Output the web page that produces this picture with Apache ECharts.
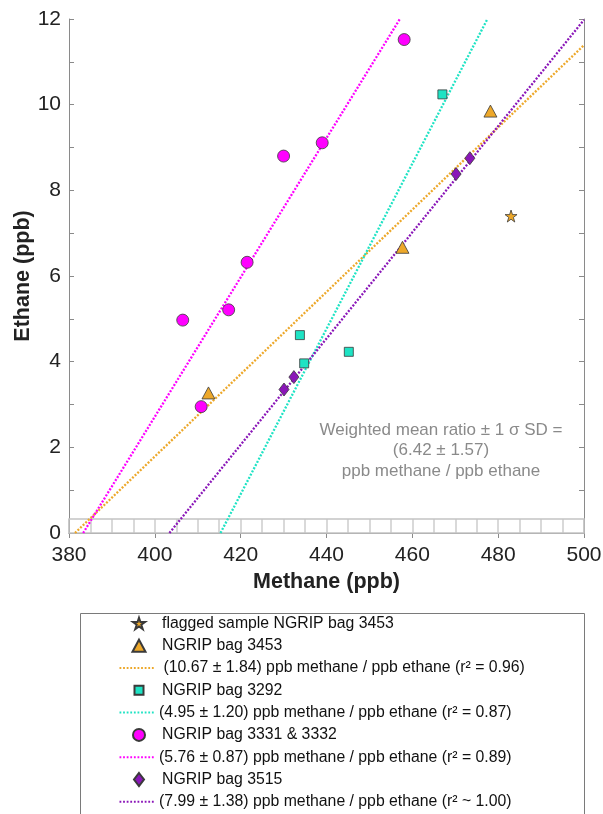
<!DOCTYPE html>
<html>
<head>
<meta charset="utf-8">
<script src="https://cdn.jsdelivr.net/npm/echarts@6/dist/echarts.min.js"></script>
<style>html,body{margin:0;padding:0;background:#fff}#c{width:603px;height:814px}</style>
</head>
<body>
<div id="c"></div>
<script>
// ---- data (methane ppb, ethane ppb) ----
const flagged3453 = [[483.0, 7.40]];
const bag3453 = [[412.5, 3.27], [457.7, 6.67], [478.2, 9.85]];
const bag3292 = [[433.8, 4.62], [434.8, 3.96], [445.2, 4.23], [467.0, 10.24]];
const bag3331 = [[406.5, 4.97], [410.8, 2.95], [417.2, 5.21], [421.5, 6.32], [430.0, 8.80], [439.0, 9.11], [458.1, 11.52]];
const bag3515 = [[430.1, 3.35], [432.4, 3.64], [470.2, 8.38], [473.4, 8.75]];
// fitted lines (end points)
const fit3453 = [[381.4, 0], [500, 11.39]];
const fit3292 = [[415.3, 0], [477.5, 12]];
const fit3331 = [[383.3, 0], [457.1, 12]];
const fit3515 = [[403.4, 0], [500, 11.98]];
const names = [
  'flagged sample NGRIP bag 3453',
  'NGRIP bag 3453',
  ' (10.67 \u00b1 1.84) ppb methane / ppb ethane (r\u00b2 = 0.96)',
  'NGRIP bag 3292',
  '(4.95 \u00b1 1.20) ppb methane / ppb ethane (r\u00b2 = 0.87)',
  'NGRIP bag 3331 & 3332',
  '(5.76 \u00b1 0.87) ppb methane / ppb ethane (r\u00b2 = 0.89)',
  'NGRIP bag 3515',
  '(7.99 \u00b1 1.38) ppb methane / ppb ethane (r\u00b2 ~ 1.00)'
];
const xTicks = {min: 380, max: 500, step: 20};
const yTicks = {min: 0, max: 12, step: 1};
const annotation = ['Weighted mean ratio \u00b1 1 \u03c3 SD =', '(6.42 \u00b1 1.57)', 'ppb methane / ppb ethane'];

const ORANGE = '#EDA82A', CYAN = '#1EE3C4', MAGENTA = '#FF00FF', PURPLE = '#8A16B8';
const FONT = '"Liberation Sans", Arial, Helvetica, sans-serif';
const star = 'path://M50,0 L61.8,35.1 L98.9,35.1 L68.9,56.9 L80.4,92.1 L50,70.4 L19.6,92.1 L31.1,56.9 L1.1,35.1 L38.2,35.1 Z';
const border = {borderColor: '#3a3a3a', borderWidth: 0.8};

// legend icon for dotted lines
let dotPath = 'path://';
for (let i = 0; i < 10; i++) dotPath += 'M' + (i * 3.6) + ',0h1.8v2h-1.8z';

function scatter(name, data, symbol, size, color) {
  return {name, type: 'scatter', data, symbol, symbolSize: size, xAxisIndex: 0, yAxisIndex: 0, z: 5,
    itemStyle: Object.assign({color, opacity: 1}, border), emphasis: {disabled: true}};
}
function fit(name, data, color) {
  return {name, type: 'line', data, symbol: 'none', xAxisIndex: 0, yAxisIndex: 0, z: 3, silent: true,
    lineStyle: {color, width: 2.3, type: [2, 1.6], cap: 'butt'}, itemStyle: {color}};
}

const axisLine = {show: true, lineStyle: {color: '#8a8a8a', width: 1}};
const tick = {show: true, inside: true, length: 5, lineStyle: {color: '#8a8a8a'}};
const lbl = {fontSize: 21, color: '#222', fontFamily: FONT};

// legend rows
const LFS = 15.8;
const rowY0 = 623.3, rowStep = 22.3;
const legendRows = [
  [names[0], 'mark', 12, 12, star],
  [names[1], 'mark', 13, 12, 'triangle'],
  [names[2], 'line'],
  [names[3], 'mark', 9, 9, 'rect'],
  [names[4], 'line'],
  [names[5], 'mark', 12, 12, 'circle'],
  [names[6], 'line'],
  [names[7], 'mark', 10, 13, 'diamond'],
  [names[8], 'line']
];
const legends = legendRows.map((r, i) => {
  const cy = rowY0 + i * rowStep;
  const base = {orient: 'horizontal', padding: 0, selectedMode: false,
    textStyle: {fontSize: LFS, color: '#111', fontFamily: FONT}};
  if (r[1] === 'line') {
    return Object.assign(base, {left: 119.5, top: cy - Math.max(2, LFS) / 2, itemWidth: 35, itemHeight: 2,
      data: [{name: r[0], icon: dotPath}]});
  }
  const w = r[2], h = r[3];
  const t = Object.assign({}, base.textStyle, {padding: [0, 0, 0, 161 - (138 + w / 2 + 5)]});
  return Object.assign(base, {left: 138 - w / 2, top: cy - Math.max(h, LFS) / 2, itemWidth: w, itemHeight: h,
    textStyle: t, data: [{name: r[0], icon: r[4]}]});
});

const chart = echarts.init(document.getElementById('c'), null, {renderer: 'canvas'});
chart.setOption({
  animation: false,
  backgroundColor: '#fff',
  grid: [
    {left: 69, top: 19, width: 515, height: 514, show: false, containLabel: false, outerBoundsMode: 'none'},
    {left: 69, top: 519, width: 515, height: 14, show: true, borderColor: '#c4c4c4', borderWidth: 1.5,
     backgroundColor: 'transparent', z: 1, containLabel: false, outerBoundsMode: 'none'}
  ],
  xAxis: [
    {gridIndex: 0, type: 'value', min: xTicks.min, max: xTicks.max, interval: xTicks.step, position: 'bottom',
     axisLine, axisTick: {show: false}, splitLine: {show: false},
     axisLabel: Object.assign({margin: 12}, lbl),
     name: 'Methane (ppb)', nameLocation: 'middle', nameGap: 36,
     nameTextStyle: {fontSize: 21.5, fontWeight: 'bold', color: '#222', fontFamily: FONT}},
    {gridIndex: 0, type: 'value', min: xTicks.min, max: xTicks.max, interval: xTicks.step, position: 'top',
     axisLine, axisTick: tick, axisLabel: {show: false}, splitLine: {show: false}},
    {gridIndex: 1, type: 'value', min: xTicks.min, max: xTicks.max, interval: 5,
     axisLine: {show: false}, axisTick: {show: false}, axisLabel: {show: false},
     splitLine: {show: true, lineStyle: {color: '#cccccc', width: 1.5}}}
  ],
  yAxis: [
    {gridIndex: 0, type: 'value', min: yTicks.min, max: yTicks.max, interval: yTicks.step, position: 'left',
     axisLine, axisTick: tick, splitLine: {show: false},
     axisLabel: Object.assign({margin: 8, formatter: v => (v % 2 === 0 ? String(v) : '')}, lbl),
     name: 'Ethane (ppb)', nameLocation: 'middle', nameGap: 35, nameMoveOverlap: false,
     nameTextStyle: {fontSize: 21.5, fontWeight: 'bold', color: '#222', fontFamily: FONT}},
    {gridIndex: 0, type: 'value', min: yTicks.min, max: yTicks.max, interval: yTicks.step, position: 'right',
     axisLine, axisTick: tick, axisLabel: {show: false}, splitLine: {show: false}},
    {gridIndex: 1, type: 'value', min: 0, max: 1, show: false}
  ],
  legend: legends,
  graphic: [
    {type: 'rect', left: 80, top: 613, shape: {width: 504, height: 220}, z: -1,
     style: {fill: 'transparent', stroke: '#7a7a7a', lineWidth: 1}},
    {type: 'text', x: 441, y: 430 - 10.25, z: 10,
     style: {text: annotation.join('\n'), fill: '#8a8a8a', fontSize: 17, lineHeight: 20.5,
             fontFamily: FONT, align: 'center', verticalAlign: 'top'}}
  ],
  series: [
    fit(names[2], fit3453, ORANGE),
    fit(names[4], fit3292, CYAN),
    fit(names[6], fit3331, MAGENTA),
    fit(names[8], fit3515, PURPLE),
    scatter(names[0], flagged3453, star, 12, ORANGE),
    scatter(names[1], bag3453, 'triangle', [13, 12], ORANGE),
    scatter(names[3], bag3292, 'rect', 9, CYAN),
    scatter(names[5], bag3331, 'circle', 12, MAGENTA),
    scatter(names[7], bag3515, 'diamond', [10, 13], PURPLE)
  ]
});
</script>
</body>
</html>
